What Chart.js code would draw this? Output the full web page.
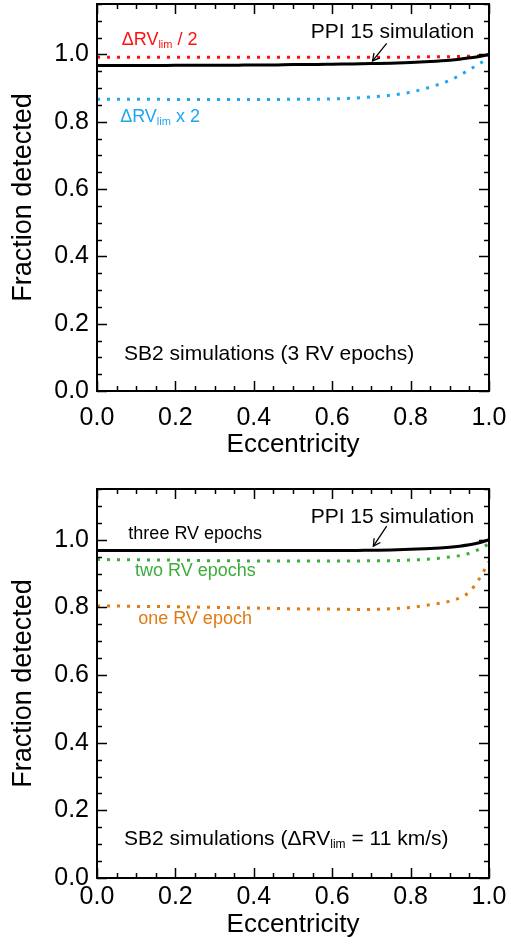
<!DOCTYPE html>
<html>
<head>
<meta charset="utf-8">
<script src="https://cdn.jsdelivr.net/npm/chart.js@4.4.1/dist/chart.umd.min.js"></script>
<style>
  html, body { margin: 0; padding: 0; background: #fff; }
  #wrap { position: relative; width: 511px; height: 947px; overflow: hidden; }
  .panel { position: absolute; left: 0; }
</style>
</head>
<body>
<div id="wrap">
  <div class="panel" style="top:0px"><canvas id="c1" width="511" height="470"></canvas></div>
  <div class="panel" style="top:470px"><canvas id="c2" width="511" height="477"></canvas></div>
</div>
<script>
// ---------------- DATA ----------------
const eccentricity = [0, 0.05, 0.1, 0.15, 0.2, 0.25, 0.3, 0.35, 0.4, 0.45, 0.5, 0.55, 0.6, 0.65, 0.7, 0.75, 0.8, 0.85, 0.9, 0.925, 0.95, 0.975, 1.0];

// Top panel: SB2 simulations (3 RV epochs)
const ppi15Top    = [0.967, 0.967, 0.967, 0.967, 0.968, 0.968, 0.968, 0.968, 0.969, 0.969, 0.970, 0.970, 0.971, 0.972, 0.973, 0.974, 0.976, 0.979, 0.983, 0.986, 0.990, 0.994, 1.000];
const dRVhalf     = [0.992, 0.992, 0.992, 0.992, 0.992, 0.992, 0.992, 0.992, 0.992, 0.992, 0.992, 0.992, 0.992, 0.992, 0.992, 0.992, 0.992, 0.993, 0.993, 0.994, 0.995, 0.996, 0.998];
const dRVdouble   = [0.867, 0.867, 0.867, 0.867, 0.866, 0.866, 0.866, 0.866, 0.866, 0.866, 0.867, 0.867, 0.868, 0.870, 0.874, 0.879, 0.888, 0.903, 0.923, 0.938, 0.955, 0.972, 0.992];

// Bottom panel: SB2 simulations (dRVlim = 11 km/s)
const threeEpochs = [0.968, 0.968, 0.968, 0.968, 0.968, 0.968, 0.968, 0.968, 0.968, 0.968, 0.968, 0.968, 0.968, 0.968, 0.969, 0.970, 0.972, 0.974, 0.978, 0.981, 0.985, 0.991, 1.000];
const twoEpochs   = [0.942, 0.941, 0.941, 0.940, 0.940, 0.939, 0.938, 0.938, 0.937, 0.937, 0.937, 0.937, 0.937, 0.937, 0.938, 0.938, 0.940, 0.943, 0.949, 0.953, 0.960, 0.972, 0.988];
const oneEpoch    = [0.804, 0.804, 0.803, 0.803, 0.802, 0.801, 0.800, 0.799, 0.798, 0.797, 0.796, 0.795, 0.795, 0.794, 0.794, 0.796, 0.800, 0.808, 0.818, 0.828, 0.846, 0.884, 0.935];

const xTickLabels = [0, 0.2, 0.4, 0.6, 0.8, 1.0];
const yTickLabels = [0, 0.2, 0.4, 0.6, 0.8, 1.0];
const xMinorStep = 0.05, yMinorStep = 0.05;
const yMax = 1.15;

// ---------------- STYLE ----------------
const FONT = '"Liberation Sans", Arial, Helvetica, sans-serif';
const C_RED = '#ff1010', C_BLUE = '#1ea6f0', C_GREEN = '#3aad3a', C_ORANGE = '#e07a12', C_BLACK = '#000000';

function pts(ys) { return eccentricity.map((x, i) => ({ x: x, y: ys[i] })); }

function solid(label, ys, color) {
  return { label, data: pts(ys), borderColor: color, borderWidth: 3, pointRadius: 0, fill: false,
           cubicInterpolationMode: 'monotone', order: 0 };
}
function dotted(label, ys, color) {
  return { label, data: pts(ys), borderColor: color, borderWidth: 3, borderDash: [3, 7], borderCapStyle: 'butt',
           pointRadius: 0, fill: false, cubicInterpolationMode: 'monotone', order: 1 };
}

// draw rich text: segments [{t, size, dy}]
function richText(ctx, x, y, segs, color) {
  ctx.save();
  ctx.fillStyle = color;
  ctx.textBaseline = 'alphabetic';
  ctx.textAlign = 'left';
  let cx = x;
  for (const s of segs) {
    ctx.font = s.size + 'px ' + FONT;
    ctx.fillText(s.t, cx, y + (s.dy || 0));
    cx += ctx.measureText(s.t).width;
  }
  ctx.restore();
}

function framePlugin(annot) {
  return {
    id: 'frame',
    afterDatasetsDraw(chart) {
      const ctx = chart.ctx, a = chart.chartArea;
      const xs = chart.scales.x, ys = chart.scales.y;
      ctx.save();
      ctx.strokeStyle = '#000';
      ctx.lineWidth = 1.5;
      const eps = 1e-6;
      for (let v = 0; v <= 1 + eps; v += xMinorStep) {
        const major = Math.abs(v / 0.2 - Math.round(v / 0.2)) < 1e-4;
        const L = major ? 10 : 5;
        const px = Math.round(xs.getPixelForValue(v)) + 0.5;
        ctx.beginPath();
        ctx.moveTo(px, a.bottom); ctx.lineTo(px, a.bottom - L);
        ctx.moveTo(px, a.top); ctx.lineTo(px, a.top + L);
        ctx.stroke();
      }
      for (let v = 0; v <= yMax + eps; v += yMinorStep) {
        const major = Math.abs(v / 0.2 - Math.round(v / 0.2)) < 1e-4;
        const L = major ? 10 : 5;
        const py = Math.round(ys.getPixelForValue(v)) + 0.5;
        ctx.beginPath();
        ctx.moveTo(a.left, py); ctx.lineTo(a.left + L, py);
        ctx.moveTo(a.right, py); ctx.lineTo(a.right - L, py);
        ctx.stroke();
      }
      ctx.lineWidth = 2;
      ctx.strokeRect(a.left, a.top, a.right - a.left, a.bottom - a.top);
      ctx.restore();
      for (const t of annot.texts) {
        richText(ctx, xs.getPixelForValue(t.x), ys.getPixelForValue(t.y), t.segs, t.color);
      }
      if (annot.arrow) {
        const ar = annot.arrow;
        const x0 = xs.getPixelForValue(ar.x0), y0 = ys.getPixelForValue(ar.y0);
        const x1 = xs.getPixelForValue(ar.x1), y1 = ys.getPixelForValue(ar.y1);
        ctx.save();
        ctx.strokeStyle = '#000'; ctx.lineWidth = 1.3;
        ctx.beginPath(); ctx.moveTo(x0, y0); ctx.lineTo(x1, y1); ctx.stroke();
        const ang = Math.atan2(y0 - y1, x0 - x1);
        const hl = 8, spread = 0.5;
        ctx.beginPath();
        ctx.moveTo(x1 + hl * Math.cos(ang + spread), y1 + hl * Math.sin(ang + spread));
        ctx.lineTo(x1, y1);
        ctx.lineTo(x1 + hl * Math.cos(ang - spread), y1 + hl * Math.sin(ang - spread));
        ctx.stroke();
        ctx.restore();
      }
    }
  };
}

function makeChart(id, datasets, cfg) {
  return new Chart(document.getElementById(id), {
    type: 'line',
    data: { datasets },
    options: {
      responsive: false, animation: false, devicePixelRatio: 1,
      layout: { padding: { top: cfg.padTop, right: 22, left: 0, bottom: 0 } },
      plugins: { legend: { display: false }, tooltip: { enabled: false } },
      scales: {
        x: {
          type: 'linear', min: 0, max: 1,
          grid: { display: false, drawTicks: false }, border: { display: false },
          afterBuildTicks: s => { s.ticks = xTickLabels.map(v => ({ value: v })); },
          afterFit: s => { s.height = cfg.xHeight; s.paddingLeft = 0; s.paddingRight = 0; s.paddingTop = 0; s.paddingBottom = 0; },
          ticks: { color: '#000', font: { family: FONT, size: 25 }, padding: cfg.xTickPad, maxRotation: 0, autoSkip: false,
                   callback: v => Number(v).toFixed(1) },
          title: { display: true, text: 'Eccentricity', color: '#000',
                   font: { family: FONT, size: 26, lineHeight: 1 }, padding: { top: 0, bottom: cfg.xTitlePad } }
        },
        y: {
          type: 'linear', min: 0, max: yMax,
          grid: { display: false, drawTicks: false }, border: { display: false },
          afterBuildTicks: s => { s.ticks = yTickLabels.map(v => ({ value: v })); },
          afterFit: s => { s.width = 97; s.paddingLeft = 0; s.paddingRight = 0; s.paddingTop = 0; s.paddingBottom = 0; },
          ticks: { color: '#000', font: { family: FONT, size: 25 }, padding: 8, autoSkip: false,
                   callback: v => Number(v).toFixed(1) },
          title: { display: true, text: 'Fraction detected', color: '#000',
                   font: { family: FONT, size: 27, lineHeight: 1 }, padding: { top: 10, bottom: 0 } }
        }
      }
    },
    plugins: [framePlugin(cfg.annot)]
  });
}

// ---------------- TOP PANEL ----------------
makeChart('c1', [
  solid('PPI 15 simulation', ppi15Top, C_BLACK),
  dotted('ΔRVlim / 2', dRVhalf, C_RED),
  dotted('ΔRVlim x 2', dRVdouble, C_BLUE)
], {
  padTop: 4, xHeight: 79, xTickPad: 12, xTitlePad: 12,
  annot: {
    texts: [
      { x: 0.545, y: 1.049, color: C_BLACK, segs: [{ t: 'PPI 15 simulation', size: 21 }] },
      { x: 0.063, y: 1.028, color: C_RED, segs: [{ t: 'ΔRV', size: 18 }, { t: 'lim', size: 11, dy: 3 }, { t: ' / 2', size: 18 }] },
      { x: 0.059, y: 0.800, color: C_BLUE, segs: [{ t: 'ΔRV', size: 18 }, { t: 'lim', size: 11, dy: 3 }, { t: ' x 2', size: 18 }] },
      { x: 0.069, y: 0.092, color: C_BLACK, segs: [{ t: 'SB2 simulations (3 RV epochs)', size: 21 }] }
    ],
    arrow: { x0: 0.739, y0: 1.033, x1: 0.703, y1: 0.981 }
  }
});

// ---------------- BOTTOM PANEL ----------------
makeChart('c2', [
  solid('three RV epochs', threeEpochs, C_BLACK),
  dotted('two RV epochs', twoEpochs, C_GREEN),
  dotted('one RV epoch', oneEpoch, C_ORANGE)
], {
  padTop: 19, xHeight: 69, xTickPad: 4, xTitlePad: 9,
  annot: {
    texts: [
      { x: 0.545, y: 1.050, color: C_BLACK, segs: [{ t: 'PPI 15 simulation', size: 21 }] },
      { x: 0.080, y: 1.003, color: C_BLACK, segs: [{ t: 'three RV epochs', size: 18 }] },
      { x: 0.097, y: 0.894, color: C_GREEN, segs: [{ t: 'two RV epochs', size: 18 }] },
      { x: 0.105, y: 0.751, color: C_ORANGE, segs: [{ t: 'one RV epoch', size: 18 }] },
      { x: 0.069, y: 0.099, color: C_BLACK, segs: [{ t: 'SB2 simulations (', size: 21 }, { t: 'ΔRV', size: 21 }, { t: 'lim', size: 12, dy: 3 }, { t: ' = 11 km/s)', size: 21 }] }
    ],
    arrow: { x0: 0.739, y0: 1.040, x1: 0.705, y1: 0.981 }
  }
});
</script>
</body>
</html>
